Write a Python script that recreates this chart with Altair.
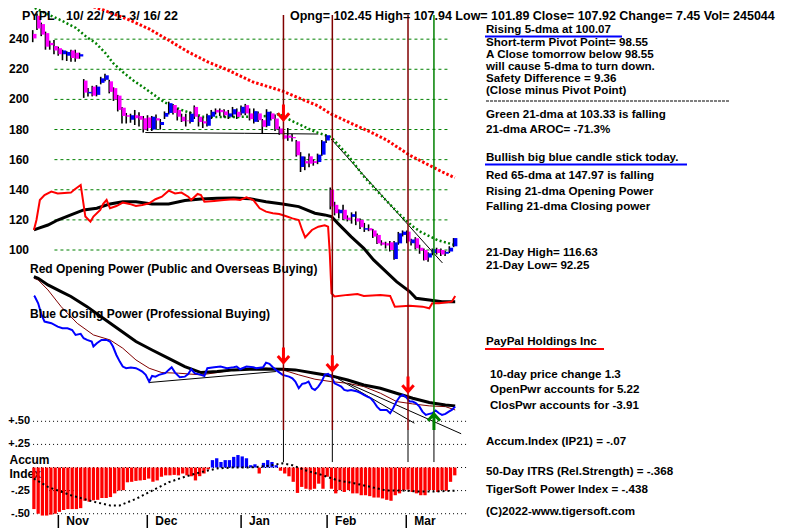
import altair as alt
import pandas as pd

# ---------------- data ----------------
DAYS = list(range(100))
OPEN = [243.5, 255.5, 250, 244, 237.5, 235.5, 234, 230, 229, 232.5, 231, 228.5,
        212.5, 204, 208.5, 203, 211, 213, 212, 207.5, 202.5, 194.5, 189.5, 186.5, 189.5, 189, 187.5, 188, 180, 187.5, 183, 188.5, 191, 196.3,
        193, 188.5, 186, 185, 195, 188.5, 185.5, 182.5, 188.5, 193, 193, 192, 188.5, 190, 191.8, 190.7, 196.2, 190.7, 185.1, 190.7, 186.2, 182.4, 190.7, 187.3, 180.7, 176.2, 176, 175, 172.2, 155.1, 159, 162.2, 159, 158.4, 163.3, 172.7,
        140, 130, 124.4, 126.7, 121.5, 122, 121, 120, 113.5, 114.5, 113, 110, 105, 104.5, 105.1, 94, 104.4, 110, 112.2, 104.5, 107.8, 101.5, 100, 95, 98, 100.5, 100, 97.5, 99, 102.45]
HIGH = [246, 257, 251, 245, 239, 239.5, 235, 233, 232, 233, 233, 231,
        213.5, 207.5, 209, 209.5, 215, 217, 213, 208, 203, 195, 191, 190.5, 193, 191.5, 189, 189.5, 189, 190, 187, 192, 198.5, 197,
        194, 190.5, 190.5, 192, 196, 189, 188, 190.5, 193, 194, 194, 193.5, 193, 195, 194, 196, 197, 194, 194, 192, 187, 193.5, 192, 190, 182, 179, 181, 177, 173, 165, 162, 164, 160, 164, 173, 176.5,
        141.5, 132, 127, 130, 123, 125, 125.6, 121, 118, 117, 114, 111, 106.5, 105.5, 106, 106, 112, 113, 113, 107.5, 108.5, 103.5, 101, 98.5, 101, 101.5, 101, 99.5, 102.5, 107.94]
LOW = [238, 246, 242, 233, 233, 230, 229, 226, 225.5, 225, 225, 227,
       201, 202, 202, 202, 210, 212, 204, 199, 192, 184, 184, 184.5, 183, 182, 178, 179, 179, 180, 180, 187, 190, 190,
       186, 185, 182, 184, 187, 182, 181, 182, 187, 190, 189, 188, 187, 188, 187, 189.5, 189.5, 186, 184, 185, 177, 181.5, 186, 179, 176.5, 173.5, 172.5, 172, 162, 151.8, 153, 155, 156, 157, 162.5, 171,
       127, 123, 121, 120, 119, 117.5, 116.5, 114, 112, 112.5, 108, 104, 103, 101, 99, 93.5, 103.5, 109, 104.5, 103, 100.5, 97.5, 93, 92.25, 96.5, 97, 96, 96, 98, 101.89]
CLOSE = [240.5, 247, 243, 235, 236, 232.5, 230, 232.5, 231.5, 227.5, 227, 230,
         204.5, 205, 202.5, 208.5, 214, 216, 205, 200, 193, 189, 188.5, 189.5, 187.5, 186.5, 180, 181, 188.5, 186, 185, 191, 197.5, 191,
         188.5, 185.5, 185.5, 190.5, 188.5, 185, 184, 189.5, 191.8, 191.3, 191.5, 189.5, 190.7, 193.5, 188.4, 195.1, 190.7, 186.9, 192.2, 186.2, 181.8, 191.8, 186.9, 180.2, 177.3, 174, 174.5, 174.2, 162.9, 162.2, 157.5, 157.3, 157.8, 163.3, 172.2, 176.2,
         128.9, 124.4, 126.7, 120.4, 119.9, 123.8, 118.9, 115.1, 114.5, 113, 108.9, 104.4, 103.5, 103, 100, 105.1, 111.1, 112.2, 105.6, 107, 101.1, 99.5, 93.3, 97.8, 100.5, 98, 97, 98.8, 101.5, 107.92]

MA65_DAY = [11, 16.3, 22.5, 27.1, 30.8, 36.3, 40.9, 45.5, 51.5, 56.1, 58.4, 62.3, 66.9, 69.9, 74.5, 79.1, 83, 88.3, 92.9, 96.1, 99]
MA65_VAL = [264.2, 259.4, 252.7, 246.8, 240.8, 231.5, 224.9, 219.6, 211.6, 207.6, 205.6, 201, 195.6, 190.3, 184.3, 178.4, 173, 163.1, 156.4, 151.8, 147.97]

MA21_DAY = [0.2, 3.7, 6.7, 9.9, 12.4, 14.5, 16.8, 18.6, 20.9, 23.2, 26.0, 28.3, 30.6, 32.9, 35.4, 40.0, 47.8, 55.4, 57.7, 60.7, 66.2, 69.9, 73.8, 77.7, 82.3, 85.7, 89.0, 91.0, 94.9, 99]
MA21_VAL = [260.7, 256.0, 252.1, 247.4, 241.4, 237.5, 230.8, 224.2, 218.2, 212.9, 207.6, 202.9, 198.3, 195.0, 192.3, 188.3, 188.3, 189.0, 190.3, 185.7, 178.4, 175.0, 163.1, 148.5, 134.5, 124.6, 115.9, 112.0, 106.6, 103.33]

SUPPORT_DAY = [26.2, 49.5, 66.9]
SUPPORT_VAL = [178.0, 177.5, 177.0]
PTREND_DAY = [69.9, 96.1]
PTREND_VAL = [173.7, 91.4]

OP_DAY = [0, 0.6, 1.4, 2.5, 4.1, 5.6, 8.7, 9.4, 11.0, 11.3, 12.1, 13.3, 14.0, 15.6, 16.3, 17.1, 17.9, 19.4, 20.9, 22.5, 24.0, 25.5, 27.1, 28.6, 30.1, 31.7, 33.2, 34.7, 36.3, 37.0, 38.5, 39.3, 40.1, 42.4, 44.7, 47.0, 48.5, 50.0, 51.6, 53.1, 54.6, 56.2, 57.7, 59.2, 60.8, 62.3, 63.1, 63.8, 65.4, 66.9, 68.4, 69.2, 69.6, 70.0, 70.7, 73.8, 76.1, 77.6, 81.5, 83.8, 84.9, 88.4, 91.4, 93.0, 93.7, 95.3, 98.3, 99.1]
OP_VAL = [113.3, 119.9, 133.2, 136.5, 138.8, 137.6, 138.1, 139.9, 143.2, 137.6, 122.2, 118.8, 122.2, 126.6, 130.6, 133.2, 127.7, 129.2, 131.5, 130.6, 129.2, 129.9, 131.0, 133.7, 135.4, 139.4, 137.6, 138.1, 135.4, 133.2, 137.2, 136.5, 132.1, 132.6, 133.2, 133.7, 133.2, 135.0, 133.2, 127.7, 125.5, 124.4, 123.9, 122.6, 121.0, 119.9, 113.3, 108.4, 113.3, 115.5, 116.4, 115.5, 97.8, 71.3, 69.1, 70.2, 70.8, 69.5, 70.2, 69.5, 62.4, 62.9, 62.4, 61.3, 64.6, 64.6, 65.7, 69.5]

OPMA_DAY = [0, 1.0, 3.3, 5.6, 8.7, 11.7, 14.8, 17.9, 20.9, 24.0, 27.8, 31.7, 35.5, 39.3, 43.1, 47.0, 50.8, 54.6, 58.5, 62.3, 66.1, 68.4, 70.0, 71.5, 74.6, 77.6, 79.9, 85.3, 88.4, 89.9, 93.0, 96.0, 99.1]
OPMA_VAL = [113.3, 114.4, 116.6, 119.9, 123.3, 126.6, 127.7, 130.6, 132.1, 132.1, 130.6, 130.6, 132.8, 133.9, 134.3, 134.5, 134.1, 132.1, 130.6, 128.8, 124.4, 123.3, 122.2, 117.7, 108.9, 101.1, 93.4, 79.0, 72.4, 67.9, 66.8, 65.7, 65.7]

CP_DAY = [0, 0.2, 1.0, 1.8, 2.5, 4.1, 5.6, 6.7, 7.9, 9.0, 9.8, 11.0, 11.7, 12.5, 13.6, 14.0, 14.8, 15.9, 17.1, 17.9, 18.6, 19.4, 20.2, 20.9, 21.7, 22.8, 24.0, 24.8, 25.5, 26.3, 27.1, 27.8, 28.6, 29.4, 30.9, 31.7, 32.4, 33.2, 34.3, 35.5, 36.3, 37.0, 37.8, 39.3, 40.1, 40.8, 42.4, 43.9, 45.4, 47.0, 47.7, 48.5, 50.0, 51.6, 52.3, 53.9, 54.6, 55.4, 56.2, 56.9, 58.5, 60.0, 60.8, 61.5, 62.3, 63.1, 63.8, 64.6, 65.4, 66.1, 66.9, 67.7, 68.4, 69.2, 70.0, 70.7, 71.5, 72.3, 73.0, 73.8, 74.6, 76.1, 76.9, 77.6, 78.4, 79.2, 79.9, 80.7, 81.5, 82.2, 83.0, 83.8, 84.5, 85.3, 86.1, 86.8, 87.6, 88.4, 89.1, 89.9, 90.7, 91.4, 92.2, 93.0, 93.7, 94.5, 95.3, 96.0, 96.8, 97.6, 98.3, 99.1]
CP_VAL = [69.5, 69.1, 64.6, 56.9, 52.5, 51.4, 49.1, 48.0, 48.0, 46.9, 43.6, 44.3, 41.4, 40.3, 39.2, 35.9, 38.1, 40.3, 40.3, 39.2, 35.9, 30.3, 25.9, 22.6, 21.5, 21.9, 21.5, 20.4, 19.3, 17.1, 12.6, 16.4, 15.9, 17.1, 18.2, 20.4, 22.1, 18.6, 15.5, 15.9, 17.7, 20.8, 18.2, 17.1, 16.4, 21.5, 22.1, 22.6, 21.5, 22.1, 22.6, 20.8, 22.6, 22.1, 21.5, 22.1, 25.2, 24.4, 22.1, 20.4, 17.1, 15.9, 14.8, 12.6, 8.2, 11.1, 11.5, 12.6, 8.2, 7.1, 9.3, 12.6, 17.1, 17.7, 15.9, 11.5, 10.4, 9.3, 7.1, 6.6, 7.1, 6.0, 4.9, 3.8, 2.7, 1.6, -0.6, -4.0, -6.2, -6.2, -6.2, -8.4, -5.1, -0.6, 2.7, 3.8, 2.2, -0.6, -0.6, -1.8, -4.0, -7.3, -9.5, -8.8, -8.4, -6.6, -8.4, -9.5, -8.8, -7.3, -6.2, -4.0]

CPMA_DAY = [0, 1.0, 3.3, 6.4, 8.7, 12.5, 16.3, 20.2, 24.0, 27.8, 31.7, 35.5, 39.3, 43.1, 47.0, 50.8, 54.6, 58.5, 61.5, 66.1, 70.0, 73.8, 77.6, 81.5, 85.3, 89.1, 93.0, 96.8, 99.1]
CPMA_VAL = [82.3, 81.2, 76.8, 72.4, 69.1, 62.4, 54.7, 46.9, 39.2, 33.6, 28.1, 22.6, 18.6, 19.3, 20.4, 20.8, 21.0, 20.8, 20.4, 18.2, 16.4, 13.7, 10.4, 8.2, 4.9, 1.6, -1.3, -2.9, -3.5]

CPMA2_DAY = [0, 1.0, 3.3, 6.4, 10.2, 14.0, 17.9, 20.9, 24.0, 27.1, 30.1, 34.0, 39.3, 43.1, 47.0, 50.8, 54.6, 58.5, 62.3, 66.1, 70.0, 73.8, 77.6, 81.5, 85.3, 89.1, 93.0, 96.8, 99.1]
CPMA2_VAL = [81.2, 80.1, 73.5, 62.4, 51.3, 43.6, 40.3, 34.8, 27.0, 21.5, 18.6, 18.2, 17.1, 18.6, 20.4, 21.0, 21.5, 20.4, 17.1, 14.2, 12.6, 11.5, 9.3, 4.9, -0.6, -2.2, -3.5, -4.0, -6.2]

CPTREND1_DAY = [27.05, 56.93]
CPTREND1_VAL = [12.0, 19.3]
CPTREND2_DAY = [70.0, 89.5]
CPTREND2_VAL = [17.0, -15.0]
CPTREND3_DAY = [73.8, 100.5]
CPTREND3_VAL = [11.5, -22.0]

AI_VAL = [-0.45, -0.50, -0.52, -0.52, -0.51, -0.50, -0.48, -0.46, -0.45, -0.45, -0.45, -0.44,
          -0.36, -0.37, -0.355, -0.35, -0.33, -0.33, -0.32, -0.28, -0.25, -0.245, -0.16, -0.155, -0.145, -0.14, -0.135, -0.12, -0.155, -0.14,
          -0.10, -0.085, -0.085, -0.08, -0.085, -0.065, -0.085, -0.095, -0.14, -0.094, -0.065, -0.02,
          0.08, 0.10, 0.06, 0.08, 0.08, 0.115, 0.135, 0.12, 0.10, 0.025, 0.035, -0.065, 0.05, 0.08, 0.06, 0.025,
          -0.035, -0.065, -0.095, -0.155, -0.275, -0.21, -0.23, -0.24, -0.23, -0.175, -0.23, -0.10,
          -0.23, -0.28, -0.245, -0.265, -0.245, -0.28, -0.28, -0.30, -0.30, -0.31, -0.325, -0.325, -0.335, -0.35, -0.36, -0.30, -0.28, -0.245, -0.24, -0.265, -0.28, -0.30, -0.30, -0.245, -0.245, -0.265, -0.245, -0.25, -0.155, -0.085]
AIMA_DAY = [0, 3.3, 8.7, 14.0, 17.9, 20.2, 24.0, 27.8, 31.7, 35.5, 39.3, 43.1, 47.0, 50.8, 54.6, 58.5, 60.8, 63.8, 67.7, 71.5, 75.3, 79.2, 83.0, 86.8, 90.7, 94.5, 99.1]
AIMA_VAL = [-0.12, -0.21, -0.30, -0.37, -0.41, -0.41, -0.34, -0.25, -0.16, -0.10, -0.05, -0.01, 0.0, 0.0, 0.015, 0.045, 0.025, -0.03, -0.08, -0.14, -0.17, -0.21, -0.25, -0.25, -0.26, -0.26, -0.25]

SELL_DAYS = [58.7, 70.2, 88.0]
BUY_DAYS = [94.1]
PRICE_ARROW_DAY = [58.7]
PRICE_ARROW_VAL = [191.6]
CP_ARROW_DAY = [58.7, 70.2, 88.0]
CP_ARROW_VAL = [30.3, 25.0, 11.0]
BUY_ARROW_DAY = [94.1]
BUY_ARROW_VAL = [-14.2]

GRID_PRICES = [100, 120, 140, 160, 180, 200, 220, 240]
GRID_LABELS = ["100", "120", "140", "160", "180", "200", "220", "240"]
AI_LEVELS = [0.5, 0.25, 0.0, -0.25, -0.5]
AI_TICKS = [0.5, 0.25, -0.25, -0.5]
AI_LABELS = ["+.50", "+.25", "-.25", "-.50"]
MONTH_DAY = [5.75, 26.67, 48.74, 68.97, 87.59]
MONTHS = ["Nov", "Dec", "Jan", "Feb", "Mar"]

HEADER_TICKER = "PYPL"
HEADER_DATES = "10/ 22/ 21- 3/ 16/ 22"
HEADER_QUOTE = "Opng= 102.45 High= 107.94 Low= 101.89 Close= 107.92 Change= 7.45 Vol= 245044"
RIGHT_TEXT = [
    "Rising 5-dma at 100.07",
    "Short-term Pivot Point= 98.55",
    "A Close tomorrow below  98.55",
    "will cause 5-dma to turn down.",
    "Safety Difference = 9.36",
    "(Close minus Pivot Point)",
    "Green 21-dma at  103.33 is falling",
    "21-dma AROC= -71.3%",
    "Bullish big blue candle stick today.",
    "Red 65-dma at  147.97 is falling",
    "Rising 21-dma Opening Power",
    "Falling 21-dma Closing power",
    "21-Day High= 116.63",
    "21-Day Low= 92.25",
    "PayPal Holdings Inc",
    "10-day price change  1.3",
    "OpenPwr accounts for  5.22",
    "ClosPwr accounts for -3.91",
    "Accum.Index (IP21) = -.07",
    "50-Day ITRS (Rel.Strength) = -.368",
    "TigerSoft Power Index = -.438",
    "(C)2022-www.tigersoft.com",
]
OP_LABEL = "Red Opening Power (Public and Overseas Buying)"
CP_LABEL = "Blue Closing Power (Professional Buying)"

# ---------------- layout (pixels) ----------------
W, H = 440, 507
RIGHT_Y = [22, 35, 47, 59, 71, 83, 107, 121.5, 150, 168, 184, 199, 245, 258, 334, 367, 382, 398, 434, 464, 482, 504]
RIGHT_X = [461] * 15 + [465, 465, 465] + [461] * 4
FONT = "Liberation Sans"
RFS = 11.6

xs = alt.Scale(domain=[-0.92, 100.23], nice=False, zero=False)
ms = alt.Scale(domain=[-75.96, 260.69], nice=False, zero=False)
ais = alt.Scale(domain=[-0.514, 4.973], nice=False, zero=False)


def X(f="d"):
    return alt.X(f"{f}:Q", scale=xs, axis=None)


def Y(f="v"):
    return alt.Y(f"{f}:Q", scale=ms, axis=None)


def YA(f="a"):
    return alt.Y(f"{f}:Q", scale=ais, axis=None)


def ser(days, vals, field="v"):
    return pd.DataFrame({"d": days, field: vals})


layers = []

# price grid
layers.append(alt.Chart(pd.DataFrame({"v": GRID_PRICES})).mark_rule(
    color="#008000", strokeDash=[3, 3], strokeWidth=1).encode(
    x=alt.XDatum(4.83, scale=xs, axis=None, type="quantitative"),
    x2=alt.X2Datum(97.5), y=Y()))

# accum index dotted levels
layers.append(alt.Chart(pd.DataFrame({"a": AI_LEVELS})).mark_rule(
    color="black", strokeDash=[1, 3], strokeWidth=1).encode(
    x=alt.XDatum(-0.2, scale=xs, axis=None, type="quantitative"),
    x2=alt.X2Datum(101.8), y=YA()))

# opening power
layers.append(alt.Chart(ser(OPMA_DAY, OPMA_VAL)).mark_line(color="black", strokeWidth=3).encode(x=X(), y=Y()))
layers.append(alt.Chart(ser(OP_DAY, OP_VAL)).mark_line(color="#FF0000", strokeWidth=2).encode(x=X(), y=Y()))

# support and trend lines in price panel
layers.append(alt.Chart(ser(SUPPORT_DAY, SUPPORT_VAL)).mark_line(color="black", strokeWidth=1).encode(x=X(), y=Y()))
layers.append(alt.Chart(ser(PTREND_DAY, PTREND_VAL)).mark_line(color="black", strokeWidth=1).encode(x=X(), y=Y()))

# moving averages
layers.append(alt.Chart(ser(MA65_DAY, MA65_VAL)).mark_line(
    color="#FF0000", strokeWidth=3, strokeDash=[2.5, 2]).encode(x=X(), y=Y()))
layers.append(alt.Chart(ser(MA21_DAY, MA21_VAL)).mark_line(
    color="#008000", strokeWidth=2.5, strokeDash=[2, 2.4]).encode(x=X(), y=Y()))

# candles
candles = pd.DataFrame({"d": DAYS, "open": OPEN, "high": HIGH, "low": LOW, "close": CLOSE})
layers.append(alt.Chart(candles).mark_rule(color="black", strokeWidth=1.6, xOffset=-1.2).encode(
    x=X(), y=Y("low"), y2=alt.Y2("high:Q")))
layers.append(alt.Chart(candles).mark_bar(width=3.6, xOffset=0.8).encode(
    x=X(), y=Y("open"), y2=alt.Y2("close:Q"),
    color=alt.condition("datum.close >= datum.open", alt.value("#0000FF"), alt.value("#FF00FF"))))

# closing power
layers.append(alt.Chart(ser(CPMA2_DAY, CPMA2_VAL)).mark_line(color="#800000", strokeWidth=1).encode(x=X(), y=Y()))
for tdays, tvals in [(CPTREND1_DAY, CPTREND1_VAL), (CPTREND2_DAY, CPTREND2_VAL), (CPTREND3_DAY, CPTREND3_VAL)]:
    layers.append(alt.Chart(ser(tdays, tvals)).mark_line(color="black", strokeWidth=1).encode(x=X(), y=Y()))
layers.append(alt.Chart(ser(CPMA_DAY, CPMA_VAL)).mark_line(color="black", strokeWidth=3).encode(x=X(), y=Y()))
layers.append(alt.Chart(ser(CP_DAY, CP_VAL)).mark_line(color="#0000FF", strokeWidth=2).encode(x=X(), y=Y()))

# signal verticals
layers.append(alt.Chart(pd.DataFrame({"d": SELL_DAYS})).mark_rule(color="#800000", strokeWidth=1.5).encode(
    x=X(), y=alt.YDatum(256.0, scale=ms, axis=None, type="quantitative"), y2=alt.Y2Datum(-19.5)))
layers.append(alt.Chart(pd.DataFrame({"d": BUY_DAYS})).mark_rule(color="#008000", strokeWidth=1.5).encode(
    x=X(), y=alt.YDatum(256.0, scale=ms, axis=None, type="quantitative"), y2=alt.Y2Datum(-19.5)))
layers.append(alt.Chart(pd.DataFrame({"d": SELL_DAYS + BUY_DAYS})).mark_rule(color="black", strokeWidth=1).encode(
    x=X(), y=alt.YDatum(-19.5, scale=ms, axis=None, type="quantitative"), y2=alt.Y2Datum(-40.8)))

DOWN = "M0,-1L0,1M-0.75,0.15L0,1L0.75,0.15"
UP = "M0,1L0,-1M-0.75,-0.15L0,-1L0.75,-0.15"
layers.append(alt.Chart(ser(PRICE_ARROW_DAY + CP_ARROW_DAY, PRICE_ARROW_VAL + CP_ARROW_VAL)).mark_point(
    shape=DOWN, filled=False, strokeWidth=3, size=230, color="#FF0000", opacity=1).encode(x=X(), y=Y()))
layers.append(alt.Chart(ser(BUY_ARROW_DAY, BUY_ARROW_VAL)).mark_point(
    shape=UP, filled=False, strokeWidth=3, size=260, color="#008000", opacity=1).encode(x=X(), y=Y()))

# left labels
layers.append(alt.Chart(pd.DataFrame({"v": GRID_PRICES, "lab": GRID_LABELS})).mark_text(
    align="right", baseline="middle", font=FONT, fontWeight="bold", fontSize=12, color="black").encode(
    x=alt.value(4), y=Y(), text="lab:N"))
layers.append(alt.Chart(pd.DataFrame({"a": AI_TICKS, "lab": AI_LABELS})).mark_text(
    align="right", baseline="middle", font=FONT, fontWeight="bold", fontSize=11, color="black").encode(
    x=alt.value(5), y=YA(), text="lab:N"))
for txt, yy in [("Accum", 452), ("Index", 466)]:
    layers.append(alt.Chart(pd.DataFrame({"t": [txt]})).mark_text(
        align="left", baseline="middle", font=FONT, fontWeight="bold", fontSize=12, color="black").encode(
        x=alt.value(-15.5), y=alt.value(yy), text="t:N"))

# accumulation index bars + dotted MA
layers.append(alt.Chart(ser(DAYS, AI_VAL, "a")).mark_bar(width=3.3).encode(
    x=X(), y=YA(), y2=alt.Y2Datum(0),
    color=alt.condition("datum.a >= 0", alt.value("#0000FF"), alt.value("#FF0000"))))
layers.append(alt.Chart(ser(AIMA_DAY, AIMA_VAL, "a")).mark_line(
    color="black", strokeWidth=2, strokeDash=[2, 3]).encode(x=X(), y=YA()))

# month axis
months = pd.DataFrame({"d": MONTH_DAY, "m": MONTHS})
layers.append(alt.Chart(months).mark_rule(color="black", strokeWidth=1.5).encode(
    x=X(), y=alt.value(507), y2=alt.value(520)))
layers.append(alt.Chart(months).mark_text(
    align="left", baseline="middle", dx=8, font=FONT, fontWeight="bold", fontSize=12, color="black").encode(
    x=X(), y=alt.value(513), text="m:N"))

# panel labels
for txt, yy in [(OP_LABEL, 261), (CP_LABEL, 306)]:
    layers.append(alt.Chart(pd.DataFrame({"t": [txt]})).mark_text(
        align="left", baseline="middle", font=FONT, fontWeight="bold", fontSize=12, color="black").encode(
        x=alt.value(5), y=alt.value(yy), text="t:N"))

# header
for txt, xx, fs in [(HEADER_TICKER, -3, 12.5), (HEADER_DATES, 41, 12.5), (HEADER_QUOTE, 265, 12.5)]:
    layers.append(alt.Chart(pd.DataFrame({"t": [txt]})).mark_text(
        align="left", baseline="alphabetic", font=FONT, fontWeight="bold", fontSize=fs, color="black").encode(
        x=alt.value(xx), y=alt.value(11.5), text="t:N"))

# right-hand commentary
for txt, xx, yy in zip(RIGHT_TEXT, RIGHT_X, RIGHT_Y):
    layers.append(alt.Chart(pd.DataFrame({"t": [txt]})).mark_text(
        align="left", baseline="middle", font=FONT, fontWeight="bold", fontSize=RFS, color="black").encode(
        x=alt.value(xx), y=alt.value(yy), text="t:N"))

# separator and underlines
layers.append(alt.Chart(pd.DataFrame({"t": [0]})).mark_rule(color="black", strokeWidth=1, strokeDash=[3, 1]).encode(
    x=alt.value(461), x2=alt.value(704), y=alt.value(93)))
for x0, x1, yy, col in [(460, 597, 28.5, "#0000FF"), (460, 662, 156.5, "#0000FF"), (460, 579, 341, "#FF0000")]:
    layers.append(alt.Chart(pd.DataFrame({"t": [0]})).mark_rule(color=col, strokeWidth=2).encode(
        x=alt.value(x0), x2=alt.value(x1), y=alt.value(yy)))

chart = alt.layer(*layers).resolve_scale(y="independent").properties(
    width=W, height=H,
    padding={"left": 17, "right": 323, "top": 0, "bottom": 13},
    autosize=alt.AutoSizeParams(type="none"),
    background="white",
).configure_view(strokeWidth=0)

chart.save("out.html", embed_options={"renderer": "svg", "actions": False})
